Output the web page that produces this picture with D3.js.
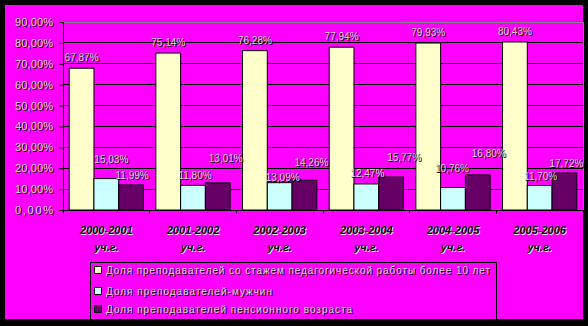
<!DOCTYPE html>
<html>
<head>
<meta charset="utf-8">
<script src="https://cdn.jsdelivr.net/npm/d3@7"></script>
<style>
  body { margin: 0; background: #000; }
  svg { display: block; }
  text { font-family: Arial, "Liberation Sans", sans-serif; }
</style>
</head>
<body>
<svg id="chart"></svg>
<script>
// Categories (school years)
const YEARS = ['2000-2001', '2001-2002', '2002-2003', '2003-2004', '2004-2005', '2005-2006'];
const YEAR_SUFFIX = 'уч.г.';

// Series values, percent
const EXPERIENCED = [67.87, 75.14, 76.28, 77.94, 79.93, 80.43];
const MEN = [15.03, 11.80, 13.09, 12.47, 10.76, 11.70];
const PENSION = [11.99, 13.01, 14.26, 15.77, 16.80, 17.72];

const SERIES_NAMES = [
    'Доля преподавателей со стажем педагогической работы более 10 лет',
    'Доля преподавателей-мужчин',
    'Доля преподавателей пенсионного возраста'
];

const Y_TICKS = [0, 10, 20, 30, 40, 50, 60, 70, 80, 90];

// Colours
const BG = '#ff00ff';
const COLORS = ['#ffffcc', '#ccffff', '#660066'];

// Data labels in the original were dragged around by hand,
// so keep their nudges (px) here: [dx, lift above bar top]
const LABEL_NUDGE = [
    [[0, 11], [0, 11], [0, 11], [0, 11], [0, 11], [0, 11]],
    [[5, 20], [2, 10], [3, 6], [1, 11], [-1, 20], [1, 10]],
    [[1, 10], [8, 25], [7, 18], [13, 20], [11, 22], [2, 10]]
];

// Canvas settings
const W = 588, H = 326;
const PLOT = {left: 63, right: 583, top: 22, bottom: 210};

const svg = d3.select('svg#chart').attr('width', W).attr('height', H);

svg.append('rect')
    .attr('x', 5).attr('y', 5)
    .attr('width', 578).attr('height', 314)
    .attr('fill', BG);

const x0 = d3.scaleBand().domain(YEARS).range([PLOT.left, PLOT.right]).paddingInner(0).paddingOuter(0);
// gap width 150% -> bars take 3/4.5 of the band
const x1 = d3.scaleBand().domain([0, 1, 2]).range([0, x0.bandwidth()]).paddingInner(0).paddingOuter(0.25);
const y = d3.scaleLinear().domain([0, 90]).range([PLOT.bottom, PLOT.top]);

// light text with a dark shadow, like the original embossed look
function shadowText(g, x, yy, str, opts) {
    opts = opts || {};
    const size = opts.size || 10;
    const anchor = opts.anchor || 'middle';
    const mk = (dx, dy, fill) => {
        const t = g.append('text')
            .attr('x', x + dx).attr('y', yy + dy)
            .attr('text-anchor', anchor)
            .attr('font-size', size)
            .attr('fill', fill)
            .text(str);
        if (opts.len) t.attr('textLength', opts.len).attr('lengthAdjust', 'spacing');
        if (opts.bold) t.attr('font-weight', 'bold');
        if (opts.italic) t.attr('font-style', 'italic');
        return t;
    };
    mk(1, 1, opts.shadow || '#000');
    mk(0, 0, opts.fill || '#d4d4d4');
}

// Gridlines
svg.append('g').selectAll('line')
    .data(Y_TICKS.filter(d => d > 0))
    .join('line')
    .attr('x1', PLOT.left).attr('x2', PLOT.right)
    .attr('y1', d => y(d)).attr('y2', d => y(d))
    .attr('stroke', d => d === 90 ? '#808080' : '#000')
    .attr('stroke-width', 1)
    .attr('shape-rendering', 'crispEdges');

svg.append('line')
    .attr('x1', PLOT.right).attr('x2', PLOT.right)
    .attr('y1', PLOT.top).attr('y2', PLOT.bottom)
    .attr('stroke', '#808080')
    .attr('shape-rendering', 'crispEdges');

// Bars
const series = [EXPERIENCED, MEN, PENSION];
const bars = svg.append('g');
series.forEach((vals, s) => {
    bars.selectAll('rect.s' + s)
        .data(vals)
        .join('rect')
        .attr('class', 's' + s)
        .attr('x', (d, i) => x0(YEARS[i]) + x1(s))
        .attr('y', d => y(d))
        .attr('width', x1.bandwidth())
        .attr('height', d => y(0) - y(d))
        .attr('fill', COLORS[s])
        .attr('stroke', '#000')
        .attr('stroke-width', 1);
});

// Axes
const yAxis = d3.axisLeft(y).tickValues(Y_TICKS).tickSize(4).tickFormat(() => '');
const ga = svg.append('g').attr('transform', `translate(${PLOT.left},0)`).call(yAxis);
ga.select('.domain').remove();
ga.selectAll('line').attr('stroke', '#000');
svg.append('line')
    .attr('x1', PLOT.left).attr('x2', PLOT.left)
    .attr('y1', PLOT.top).attr('y2', PLOT.bottom)
    .attr('stroke', '#000')
    .attr('shape-rendering', 'crispEdges');

const yl = svg.append('g');
Y_TICKS.forEach(t => {
    shadowText(yl, 53, y(t) + 4, t.toFixed(2).replace('.', ',') + '%', {size: 11, anchor: 'end', len: 38});
});

// x axis line and ticks
svg.append('line')
    .attr('x1', PLOT.left).attr('x2', PLOT.right)
    .attr('y1', PLOT.bottom).attr('y2', PLOT.bottom)
    .attr('stroke', '#000')
    .attr('shape-rendering', 'crispEdges');
svg.append('g').selectAll('line')
    .data(YEARS.concat(['end']))
    .join('line')
    .attr('x1', (d, i) => PLOT.left + i * x0.bandwidth())
    .attr('x2', (d, i) => PLOT.left + i * x0.bandwidth())
    .attr('y1', PLOT.bottom).attr('y2', PLOT.bottom + 4)
    .attr('stroke', '#000')
    .attr('shape-rendering', 'crispEdges');

// Category labels, two lines, bold italic
const xl = svg.append('g');
YEARS.forEach(yr => {
    const cx = x0(yr) + x0.bandwidth() / 2;
    shadowText(xl, cx, 234, yr, {size: 11, bold: true, italic: true, fill: '#000', shadow: '#e0e0e0'});
    shadowText(xl, cx, 251, YEAR_SUFFIX, {size: 11, bold: true, italic: true, fill: '#000', shadow: '#e0e0e0'});
});

// Data labels
const dl = svg.append('g');
series.forEach((vals, s) => {
    vals.forEach((v, i) => {
        const nudge = LABEL_NUDGE[s][i];
        const cx = x0(YEARS[i]) + x1(s) + x1.bandwidth() / 2 + nudge[0];
        const cy = y(v) - nudge[1];
        shadowText(dl, cx, cy + 4, v.toFixed(2).replace('.', ',') + '%', {size: 10});
    });
});

// Legend
const lg = svg.append('g');
lg.append('rect')
    .attr('x', 90.5).attr('y', 262.5)
    .attr('width', 406).attr('height', 57)
    .attr('fill', 'none')
    .attr('stroke', '#000');
const LEGEND_LEN = [384, 166, 246];
SERIES_NAMES.forEach((name, s) => {
    const cy = [270, 291, 309][s];
    lg.append('rect')
        .attr('x', 94.5).attr('y', cy - 3.5)
        .attr('width', 7).attr('height', 7)
        .attr('fill', COLORS[s])
        .attr('stroke', '#000');
    shadowText(lg, 106, cy + 4, name, {size: 10, anchor: 'start', len: LEGEND_LEN[s]});
});
</script>
</body>
</html>
